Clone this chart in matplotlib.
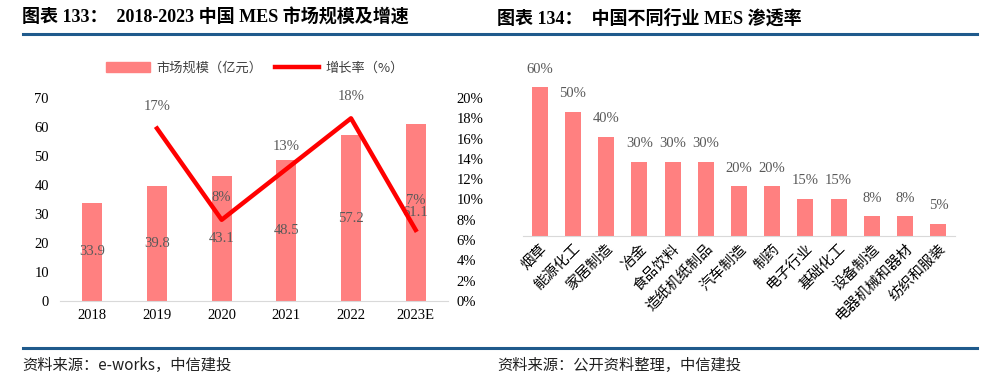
import numpy as np
import matplotlib.pyplot as plt
from matplotlib.patches import Patch
from matplotlib.lines import Line2D

plt.rcParams['font.family'] = ['Liberation Serif', 'Noto Sans CJK SC']

# datos grafico 133
anios = ['2018', '2019', '2020', '2021', '2022', '2023E']
mercado = [33.9, 39.8, 43.1, 48.5, 57.2, 61.1]
crecimiento = [None, 17, 8, 13, 18, 7]

# datos grafico 134
industrias = ['烟草', '能源化工', '家居制造', '冶金', '食品饮料', '造纸机纸制品', '汽车制造',
              '制药', '电子行业', '基础化工', '设备制造', '电器机械和器材', '纺织和服装']
penetracion = [60, 50, 40, 30, 30, 30, 20, 20, 15, 15, 8, 8, 5]

rosa = '#FF8080'
rojo = '#FF0000'
gris = '#595959'
azul = '#1F5A8C'

W, H = 1000, 384
fig = plt.figure(figsize=(10, 3.84), dpi=100)


def rect(x0, y_base, x1, y_top):
    return [x0 / W, 1 - y_base / H, (x1 - x0) / W, (y_base - y_top) / H]


# titulos y lineas
fig.text(22 / W, 1 - 18 / H, '图表 133：  2018-2023 中国 MES 市场规模及增速', fontsize=13,
         fontweight='bold', va='center', ha='left', color='black')
fig.text(497 / W, 1 - 18 / H, '图表 134：  中国不同行业 MES 渗透率', fontsize=13,
         fontweight='bold', va='center', ha='left', color='black')
fig.add_artist(Line2D([23 / W, 977 / W], [1 - 34 / H, 1 - 34 / H], color=azul, lw=2.2))
fig.add_artist(Line2D([23 / W, 977 / W], [1 - 348 / H, 1 - 348 / H], color=azul, lw=2.2))
fig.text(22 / W, 1 - 365 / H, '资料来源：e-works，中信建投', fontsize=11, style='italic',
         va='center', ha='left', color='#202020', family=['Noto Sans CJK SC', 'DejaVu Sans'])
fig.text(497 / W, 1 - 365 / H, '资料来源：公开资料整理，中信建投', fontsize=11, style='italic',
         va='center', ha='left', color='#202020', family=['Noto Sans CJK SC', 'DejaVu Sans'])

# ---- grafico 133 ----
ax = fig.add_axes(rect(60, 301, 448, 98))
x = np.arange(len(anios))
ax.bar(x, mercado, width=0.31, color=rosa, zorder=2)
ax.set_xlim(-0.5, len(anios) - 0.5)
ax.set_ylim(0, 70)
ax.set_yticks(range(0, 71, 10))
ax.set_xticks(x)
ax.set_xticklabels(anios)
for s in ['top', 'right', 'left']:
    ax.spines[s].set_visible(False)
ax.spines['bottom'].set_color('#D9D9D9')
ax.tick_params(length=0, labelsize=10.5, colors='black', pad=6)
ax.tick_params(axis='y', pad=8)
for xi, v in zip(x, mercado):
    ax.text(xi, v / 2, f'{v:.1f}', ha='center', va='center', fontsize=10.5, color=gris, zorder=4)

ax2 = ax.twinx()
xs = [xi for xi, g in zip(x, crecimiento) if g is not None]
gs = [g for g in crecimiento if g is not None]
ax2.plot(xs, gs, color=rojo, lw=3.2, zorder=3)
ax2.set_ylim(0, 20)
ax2.set_yticks(range(0, 21, 2))
ax2.set_yticklabels([f'{t}%' for t in range(0, 21, 2)])
for s in ['top', 'right', 'left', 'bottom']:
    ax2.spines[s].set_visible(False)
ax2.tick_params(length=0, labelsize=10.5, colors='black', pad=6)
for i, (xi, g) in enumerate(zip(xs, gs)):
    # el ultimo se sube un poco para no pisar la etiqueta 61.1
    dy = 21 if i == len(gs) - 1 else 16
    ax2.annotate(f'{g}%', (xi, g), textcoords='offset points', xytext=(0, dy),
                 ha='center', va='center', fontsize=10.5, color=gris)

handles = [Patch(color=rosa), Line2D([], [], color=rojo, lw=3.2)]
fig.legend(handles, ['市场规模（亿元）', '增长率（%）'], loc='center', ncol=2,
           bbox_to_anchor=(255 / W, 1 - 68 / H), frameon=False,
           handlelength=3.3, handleheight=0.7, columnspacing=1.0, handletextpad=0.5,
           labelcolor='#404040', prop={'family': ['Noto Sans CJK SC'], 'size': 9.5})

# ---- grafico 134 ----
bx = fig.add_axes(rect(523, 236, 955, 62.4))
xi2 = np.arange(len(industrias))
bx.bar(xi2, penetracion, width=0.48, color=rosa, zorder=2)
bx.set_xlim(-0.5, len(industrias) - 0.5)
bx.set_ylim(0, 70)
bx.set_yticks([])
bx.set_xticks(xi2)
bx.set_xticklabels(industrias, rotation=45, ha='right', rotation_mode='anchor',
                   family=['Noto Sans CJK SC'], fontsize=10.5)
for s in ['top', 'right', 'left']:
    bx.spines[s].set_visible(False)
bx.spines['bottom'].set_color('#D9D9D9')
bx.tick_params(length=0, colors='black', pad=4)
for xx, v in zip(xi2, penetracion):
    bx.annotate(f'{v}%', (xx, v), textcoords='offset points', xytext=(0, 13),
                ha='center', va='center', fontsize=10.5, color=gris)

fig.savefig('out.png', dpi=100)
